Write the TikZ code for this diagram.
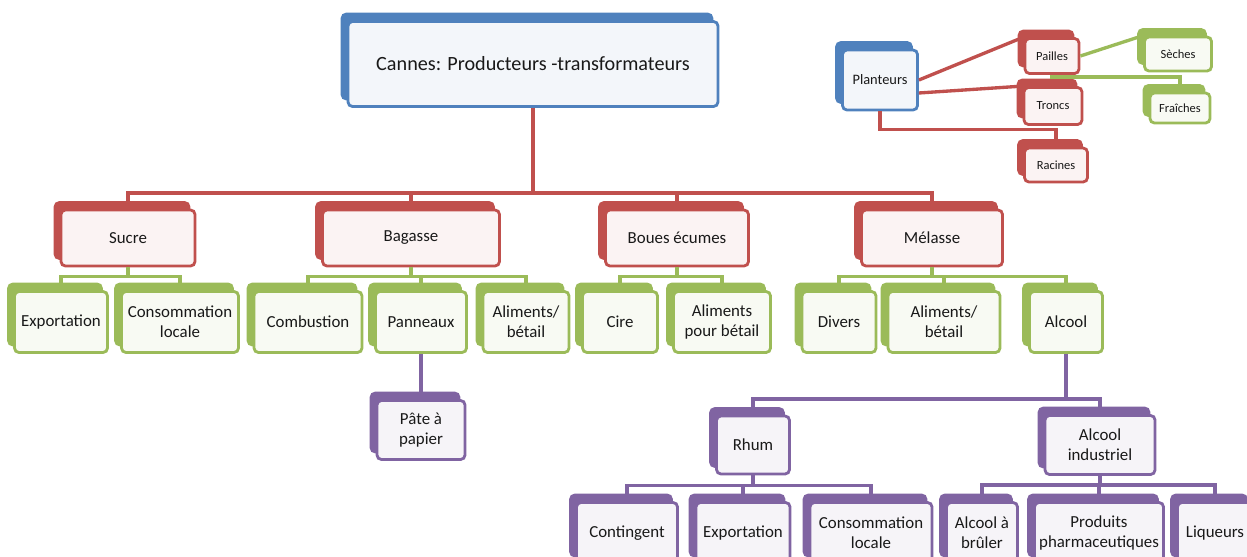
\documentclass[tikz,border=0pt]{standalone}
\usepackage{fontspec}
\setmainfont{Carlito}
\usepackage{tikz}
\usetikzlibrary{shadows, positioning, calc}
\definecolor{cblue}{HTML}{4F81BD}
\definecolor{cred}{HTML}{C0504D}
\definecolor{cgreen}{HTML}{9BBB59}
\definecolor{cpurple}{HTML}{8064A2}

\begin{document}
\begin{tikzpicture}[
        x=0.02cm, y=-0.02cm,
        box/.style={rectangle, draw=#1, fill=#1!7, line width=1.6pt, rounded corners=2.5pt, align=center, inner sep=1pt, text=black!90, font=\fontsize{9.6}{11.4}\selectfont,
            general shadow={fill=#1, draw=#1, shadow xshift=-0.12cm, shadow yshift=0.15cm}},
        small/.style={font=\fontsize{7.1}{8.5}\selectfont},
        lvone/.style={box=cred, minimum height=1.12cm},
        lvtwo/.style={box=cgreen, minimum height=1.22cm},
        lvfour/.style={box=cpurple, minimum height=1.22cm},
        link/.style={draw=#1, line width=1.9pt}
    ]
        \useasboundingbox (0,0) rectangle (1247,557);
        \clip (0,0) rectangle (1247,557);

        % main title
        \node[box=cblue, minimum width=7.4cm, minimum height=1.7cm, font=\fontsize{11.5}{13}\selectfont] (cannes) at (533,64) {Cannes: Producteurs -transformateurs};

        % planteurs corner
        \node[box=cblue, minimum width=1.5cm, minimum height=1.2cm, font=\fontsize{8.2}{10}\selectfont] (plant) at (880,80) {Planteurs};
        \node[box=cred, small, minimum width=1.08cm, minimum height=0.7cm] (pailles) at (1052,56) {Pailles};
        \node[box=cred, small, minimum width=1.16cm, minimum height=0.74cm] (troncs) at (1053,106) {Troncs};
        \node[box=cred, small, minimum width=1.26cm, minimum height=0.68cm] (racines) at (1056,165) {Racines};
        \node[box=cgreen, small, minimum width=1.34cm, minimum height=0.68cm] (seches) at (1178,54) {Sèches};
        \node[box=cgreen, small, minimum width=1.2cm, minimum height=0.6cm] (fraiches) at (1180,108) {Fraîches};

        % products
        \node[lvone, minimum width=2.68cm] (sucre) at (128,238) {Sucre};
        \node[lvone, minimum width=3.54cm] (bagasse) at (411,238) {Bagasse};
        \node[lvone, minimum width=2.86cm] (boues) at (677,238) {Boues écumes};
        \node[lvone, minimum width=2.82cm] (melasse) at (932,238) {Mélasse};

        % uses
        \node[lvtwo, minimum width=1.86cm] (expo) at (61,322) {Exportation};
        \node[lvtwo, minimum width=2.34cm] (conso) at (180,322) {Consommation\\locale};
        \node[lvtwo, minimum width=2.16cm] (combu) at (308,322) {Combustion};
        \node[lvtwo, minimum width=1.82cm] (pann) at (421,322) {Panneaux};
        \node[lvtwo, minimum width=1.72cm] (alibag) at (526,322) {Aliments/\\bétail};
        \node[lvtwo, minimum width=1.5cm] (cire) at (620,322) {Cire};
        \node[lvtwo, minimum width=1.94cm] (alibou) at (722,322) {Aliments\\pour bétail};
        \node[lvtwo, minimum width=1.48cm] (divers) at (839,322) {Divers};
        \node[lvtwo, minimum width=2.24cm] (alimel) at (944,322) {Aliments/\\bétail};
        \node[lvtwo, minimum width=1.46cm] (alcool) at (1066,322) {Alcool};

        \node[box=cpurple, minimum width=1.76cm, minimum height=1.18cm] (pate) at (421,430) {Pâte à\\papier};
        \node[box=cpurple, minimum width=1.46cm, minimum height=1.16cm] (rhum) at (753,445) {Rhum};
        \node[box=cpurple, minimum width=2.2cm, minimum height=1.18cm] (alcind) at (1100,445) {Alcool\\industriel};

        \node[lvfour, minimum width=2.02cm] (conting) at (627,533) {Contingent};
        \node[lvfour, minimum width=1.88cm] (exporhum) at (743,533) {Exportation};
        \node[lvfour, minimum width=2.44cm] (consorhum) at (871,533) {Consommation\\locale};
        \node[lvfour, minimum width=1.42cm] (brule) at (982,533) {Alcool à\\brûler};
        \node[lvfour, minimum width=2.58cm] (pharma) at (1099,533) {Produits\\pharmaceutiques};
        \node[lvfour, minimum width=1.5cm] (liqueurs) at (1215,533) {Liqueurs};

        % connectors
        \draw[link=cred] (plant.east) -- (pailles.north west);
        \draw[link=cred] ([yshift=-0.26cm]plant.east) -- (troncs.north west);
        \draw[link=cred] (plant.south) -- ++(0,18) -| (racines.north);
        \draw[link=cgreen] (pailles.east) -- (seches.north west);
        \draw[link=cgreen] (pailles.south) -- ++(0,2) -| (fraiches.north);

        \foreach \n in {sucre, bagasse, boues, melasse}
            \draw[link=cred] (cannes.south) -- ++(0,85) -| (\n.north);
        \foreach \p/\c in {sucre/expo, sucre/conso, bagasse/combu, bagasse/pann, bagasse/alibag, boues/cire, boues/alibou, melasse/divers, melasse/alimel, melasse/alcool}
            \draw[link=cgreen] (\p.south) -- ++(0,9) -| (\c.north);
        \draw[link=cpurple] (pann.south) -- (pate.north);
        \foreach \c in {rhum, alcind}
            \draw[link=cpurple] (alcool.south) -- ++(0,45) -| (\c.north);
        \foreach \c in {conting, exporhum, consorhum}
            \draw[link=cpurple] (rhum.south) -- ++(0,10) -| (\c.north);
        \foreach \c in {brule, pharma, liqueurs}
            \draw[link=cpurple] (alcind.south) -- ++(0,9) -| (\c.north);
    \end{tikzpicture}
\end{document}
